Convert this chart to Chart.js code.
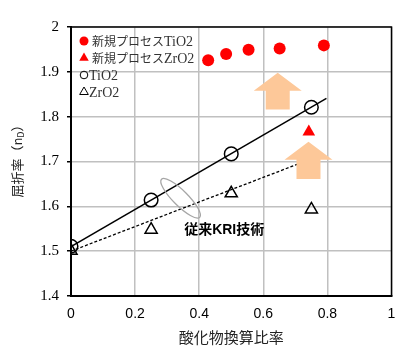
<!DOCTYPE html>
<html>
<head>
<meta charset="utf-8">
<script src="https://cdn.jsdelivr.net/npm/chart.js@4"></script>
<style>
  html, body { margin: 0; padding: 0; background: #fff; }
  #wrap { width: 400px; height: 350px; }
</style>
</head>
<body>
<div id="wrap"><canvas id="c"></canvas></div>
<script>
// values
const newTiO2X = [0.428, 0.484, 0.554, 0.651, 0.789];
const newTiO2Y = [1.926, 1.940, 1.949, 1.952, 1.959];
const newZrO2X = [0.742];
const newZrO2Y = [1.766];
const tio2X = [0, 0.25, 0.5, 0.75];
const tio2Y = [1.511, 1.614, 1.717, 1.821];
const zro2X = [0, 0.25, 0.5, 0.75];
const zro2Y = [1.501, 1.548, 1.629, 1.593];
const fitTiO2X = [0, 0.797];
const fitTiO2Y = [1.51, 1.841];
const fitZrO2X = [0, 0.74];
const fitZrO2Y = [1.5, 1.703];

// legend labels split into japanese prefix + latin part
const legendPrefix = ['新規プロセス', '新規プロセス', '', ''];
const legendMain = ['TiO2', 'ZrO2', 'TiO2', 'ZrO2'];
const noteText = '従来KRI技術';
const xTitle = '酸化物換算比率';

// arrows: [x centre, bottom y, tip y] in data units
const arrows = [[0.645, 1.816, 1.898], [0.741, 1.661, 1.744]];

const pts = (xs, ys) => xs.map((x, i) => ({ x, y: ys[i] }));
const serif = "'Liberation Serif', 'Noto Sans CJK JP', serif";
const sans = "'Liberation Sans', 'Noto Sans CJK JP', sans-serif";

const decor = {
  id: 'decor',
  afterDatasetsDraw(chart) {
    const { ctx, chartArea: a, scales: { x, y } } = chart;
    ctx.save();
    // ellipse
    ctx.strokeStyle = '#a6a6a6';
    ctx.lineWidth = 1.3;
    ctx.beginPath();
    ctx.ellipse(x.getPixelForValue(0.342), y.getPixelForValue(1.618), 27, 7.5, Math.PI / 4, 0, Math.PI * 2);
    ctx.stroke();
    // arrows
    ctx.fillStyle = '#fdc899';
    arrows.forEach(([cx, yb, yt]) => {
      const px = x.getPixelForValue(cx), pb = y.getPixelForValue(yb), pt = y.getPixelForValue(yt);
      const ph = pt + 18;
      ctx.beginPath();
      ctx.moveTo(px, pt);
      ctx.lineTo(px + 24, ph);
      ctx.lineTo(px + 12, ph);
      ctx.lineTo(px + 12, pb);
      ctx.lineTo(px - 12, pb);
      ctx.lineTo(px - 12, ph);
      ctx.lineTo(px - 24, ph);
      ctx.closePath();
      ctx.fill();
    });
    // note text
    ctx.fillStyle = '#000';
    ctx.font = "bold 14px 'Liberation Sans', 'Noto Sans CJK JP', sans-serif";
    ctx.textAlign = 'center';
    ctx.textBaseline = 'middle';
    ctx.fillText(noteText, x.getPixelForValue(0.478), y.getPixelForValue(1.547));
    // frame top/right
    ctx.strokeStyle = '#000';
    ctx.lineWidth = 1.5;
    ctx.beginPath();
    ctx.moveTo(a.left, a.top);
    ctx.lineTo(a.right, a.top);
    ctx.lineTo(a.right, a.bottom);
    ctx.stroke();
    // legend
    const styles = [
      { pointStyle: 'circle', radius: 4.5, fill: '#ff0000', stroke: '#ff0000', bw: 0 },
      { pointStyle: 'triangle', radius: 5.5, fill: '#ff0000', stroke: '#ff0000', bw: 0 },
      { pointStyle: 'circle', radius: 3.8, fill: 'rgba(0,0,0,0)', stroke: '#000', bw: 1 },
      { pointStyle: 'triangle', radius: 5, fill: 'rgba(0,0,0,0)', stroke: '#000', bw: 1 }
    ];
    ctx.textAlign = 'left';
    legendMain.forEach((t, i) => {
      const ly = a.top + 14 + i * 17;
      const s = styles[i];
      ctx.fillStyle = s.fill;
      ctx.strokeStyle = s.stroke;
      ctx.lineWidth = s.bw;
      Chart.helpers.drawPoint(ctx, { pointStyle: s.pointStyle, radius: s.radius, rotation: 0, borderWidth: s.bw }, a.left + 13, ly);
      ctx.fillStyle = '#333';
      let tx = a.left + (legendPrefix[i] ? 21 : 18);
      if (legendPrefix[i]) {
        ctx.font = "12px 'Noto Sans CJK JP', sans-serif";
        ctx.fillText(legendPrefix[i], tx, ly);
        tx += ctx.measureText(legendPrefix[i]).width;
      }
      ctx.font = "14px " + serif;
      ctx.fillText(t, tx, ly + 1);
    });
    // y title with subscript
    ctx.translate(17, 158);
    ctx.rotate(-Math.PI / 2);
    ctx.fillStyle = '#222';
    ctx.textBaseline = 'middle';
    ctx.font = "13px 'Noto Sans CJK JP', sans-serif";
    const p1 = '屈折率（n', p2 = 'D', p3 = '）';
    const w1 = ctx.measureText(p1).width;
    ctx.font = "9px 'Noto Sans CJK JP', sans-serif";
    const w2 = ctx.measureText(p2).width;
    ctx.font = "13px 'Noto Sans CJK JP', sans-serif";
    const w3 = ctx.measureText(p3).width;
    let sx = -(w1 + w2 + w3) / 2;
    ctx.fillText(p1, sx, 0);
    ctx.font = "9px 'Noto Sans CJK JP', sans-serif";
    ctx.fillText(p2, sx + w1, 4);
    ctx.font = "13px 'Noto Sans CJK JP', sans-serif";
    ctx.fillText(p3, sx + w1 + w2, 0);
    ctx.restore();
  }
};

new Chart(document.getElementById('c'), {
  type: 'scatter',
  data: {
    datasets: [
      { label: 'new TiO2', data: pts(newTiO2X, newTiO2Y), pointStyle: 'circle', pointRadius: 6, backgroundColor: '#ff0000', borderWidth: 0 },
      { label: 'new ZrO2', data: pts(newZrO2X, newZrO2Y), pointStyle: 'triangle', pointRadius: 7.3, backgroundColor: '#ff0000', borderWidth: 0 },
      { label: 'fitTiO2', data: pts(fitTiO2X, fitTiO2Y), showLine: true, pointRadius: 0, borderColor: '#000', borderWidth: 1.5 },
      { label: 'fitZrO2', data: pts(fitZrO2X, fitZrO2Y), showLine: true, pointRadius: 0, borderColor: '#000', borderWidth: 1.3, borderDash: [3, 2] },
      { label: 'TiO2', data: pts(tio2X, tio2Y), pointStyle: 'circle', pointRadius: 6.8, backgroundColor: 'rgba(0,0,0,0)', borderColor: '#000', borderWidth: 1.5 },
      { label: 'ZrO2', data: pts(zro2X, zro2Y), pointStyle: 'triangle', pointRadius: 7, backgroundColor: 'rgba(0,0,0,0)', borderColor: '#000', borderWidth: 1.5 }
    ]
  },
  options: {
    responsive: true, maintainAspectRatio: false, animation: false,
    layout: { padding: { top: 27, right: 7, left: 0, bottom: 0 } },
    scales: {
      x: {
        type: 'linear', min: 0, max: 1,
        afterFit: s => { s.height = 54; s.paddingLeft = 0; s.paddingRight = 0; },
        ticks: { stepSize: 0.2, color: '#000', font: { family: sans, size: 14 }, padding: 10, callback: v => v === 0 || v === 1 ? String(v) : v.toFixed(1) },
        grid: { color: '#c0c0c0', lineWidth: 1.5, drawTicks: false },
        border: { color: '#000', width: 2 },
        title: { display: true, text: xTitle, color: '#222', font: { family: "'Noto Sans CJK JP', sans-serif", size: 15 }, padding: { top: 2 } }
      },
      y: {
        min: 1.4, max: 2,
        afterFit: s => { s.width = 71; s.paddingTop = 0; s.paddingBottom = 0; },
        ticks: { stepSize: 0.1, color: '#000', font: { family: serif, size: 15 }, padding: 8, callback: v => v === 2 ? '2' : v.toFixed(1) },
        grid: { color: '#c0c0c0', lineWidth: 1.5, tickLength: 4, tickColor: '#000' },
        border: { color: '#000', width: 2 }
      }
    },
    plugins: { legend: { display: false }, tooltip: { enabled: false } }
  },
  plugins: [decor]
});
</script>
</body>
</html>
